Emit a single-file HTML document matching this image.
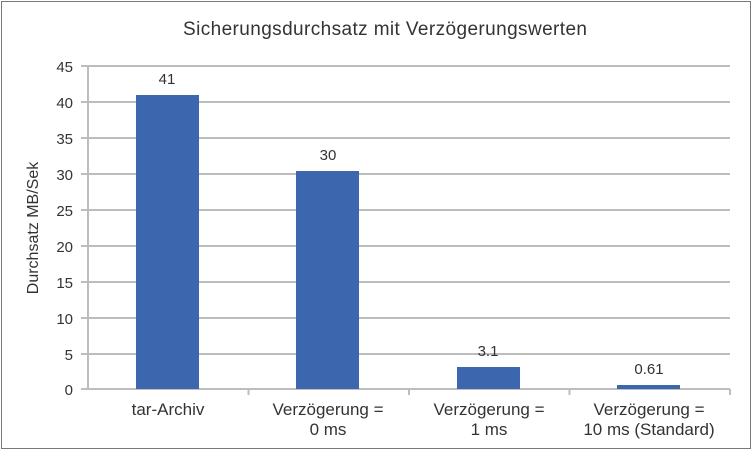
<!DOCTYPE html>
<html><head><meta charset="utf-8"><style>
body{margin:0;background:#fff;width:754px;height:452px;overflow:hidden}
</style></head><body>
<svg width="754" height="452" xmlns="http://www.w3.org/2000/svg" font-family="Liberation Sans, sans-serif">
<rect x="1.5" y="1.5" width="749" height="447" fill="#fff" stroke="#7a7a7a" stroke-width="1"/>
<text x="385" y="35" font-size="19" fill="#333" text-anchor="middle" textLength="404">Sicherungsdurchsatz mit Verzögerungswerten</text>
<g stroke="#bdbdbd" stroke-width="2">
<line x1="81" y1="66" x2="730" y2="66"/>
<line x1="81" y1="102" x2="730" y2="102"/>
<line x1="81" y1="138" x2="730" y2="138"/>
<line x1="81" y1="174" x2="730" y2="174"/>
<line x1="81" y1="210" x2="730" y2="210"/>
<line x1="81" y1="246" x2="730" y2="246"/>
<line x1="81" y1="282" x2="730" y2="282"/>
<line x1="81" y1="318" x2="730" y2="318"/>
<line x1="81" y1="354" x2="730" y2="354"/>
<line x1="81" y1="389" x2="730" y2="389"/>
<line x1="88" y1="66" x2="88" y2="389"/>
<line x1="248.5" y1="389" x2="248.5" y2="395"/>
<line x1="409" y1="389" x2="409" y2="395"/>
<line x1="569.5" y1="389" x2="569.5" y2="395"/>
<line x1="730" y1="389" x2="730" y2="395"/>
</g>
<g font-size="15" fill="#333" text-anchor="end">
<text x="73" y="72">45</text><text x="73" y="108">40</text><text x="73" y="144">35</text>
<text x="73" y="180">30</text><text x="73" y="216">25</text><text x="73" y="252">20</text>
<text x="73" y="288">15</text><text x="73" y="324">10</text><text x="73" y="360">5</text>
<text x="73" y="395">0</text>
</g>
<text transform="translate(38,228) rotate(-90)" font-size="16" fill="#333" text-anchor="middle">Durchsatz MB/Sek</text>
<g fill="#3c66ad">
<rect x="136" y="95" width="63" height="294"/>
<rect x="296" y="171" width="63" height="218"/>
<rect x="457" y="367" width="63" height="22"/>
<rect x="617" y="385" width="63" height="4"/>
</g>
<g font-size="15" fill="#333" text-anchor="middle">
<text x="167" y="84">41</text><text x="328" y="160">30</text>
<text x="488" y="356">3.1</text><text x="649" y="374">0.61</text>
</g>
<g font-size="17" fill="#333" text-anchor="middle">
<text x="168" y="415">tar-Archiv</text>
<text x="328" y="415">Verzögerung =</text><text x="328" y="435">0 ms</text>
<text x="489" y="415">Verzögerung =</text><text x="489" y="435">1 ms</text>
<text x="649" y="415">Verzögerung =</text><text x="649" y="435">10 ms (Standard)</text>
</g>
</svg>
</body></html>
